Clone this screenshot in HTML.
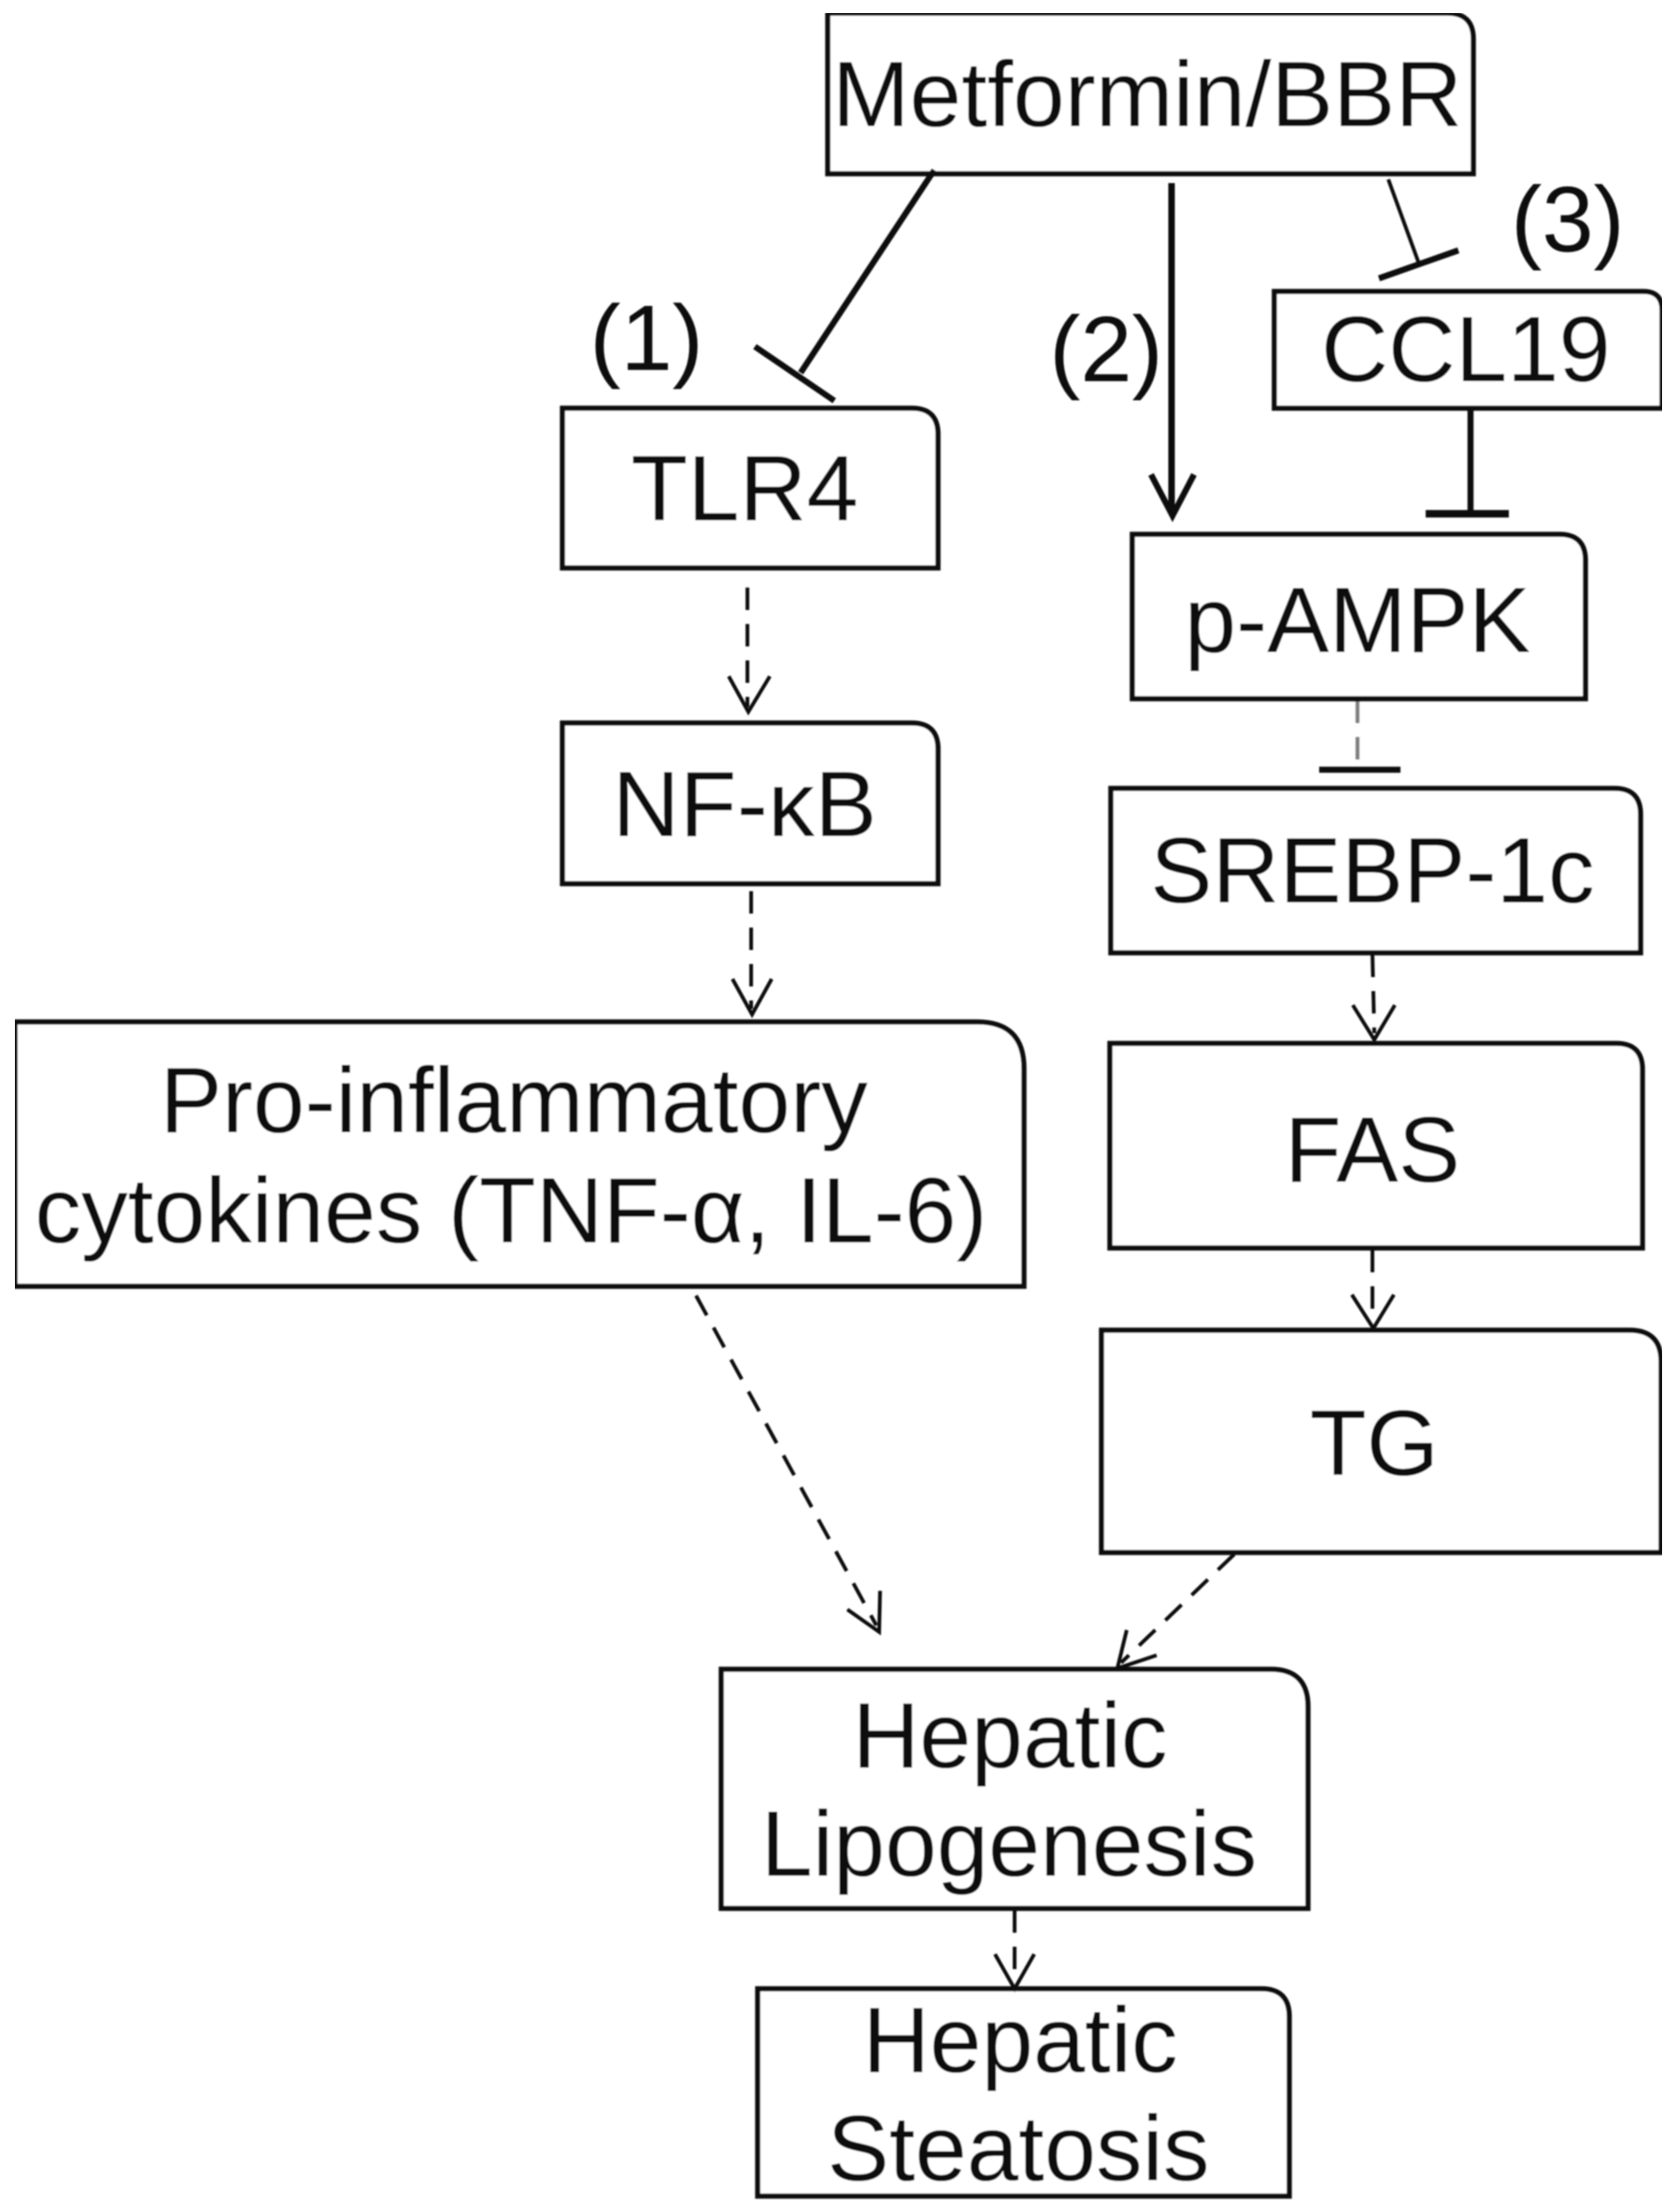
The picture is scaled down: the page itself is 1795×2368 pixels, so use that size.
<!DOCTYPE html>
<html>
<head>
<meta charset="utf-8">
<style>
html,body{margin:0;padding:0;background:#fff;}
svg{display:block;}
text{font-family:"Liberation Sans",sans-serif;font-size:99.5px;fill:#0a0a0a;text-anchor:middle;}
.b{fill:#fff;stroke:#111;stroke-width:5.5;}
.l{fill:none;stroke:#111;stroke-width:4;}
.t{fill:none;stroke:#111;stroke-width:6.5;}
.d{fill:none;stroke:#111;stroke-width:4;stroke-dasharray:24 15;}
.h{fill:none;stroke:#111;stroke-width:4;}
</style>
</head>
<body>
<svg width="1795" height="2368" viewBox="0 0 1795 2368" xmlns="http://www.w3.org/2000/svg">
<defs><filter id="s" x="0" y="0" width="100%" height="100%"><feGaussianBlur stdDeviation="0.8"/></filter></defs>
<rect width="1795" height="2368" fill="#fff"/>
<g filter="url(#s)">
<path class="b" d="M886 14H1549Q1577 14 1577 42V186H886Z"/>
<path class="b" d="M1364 312H1759Q1779 312 1779 332V437H1364Z"/>
<path class="b" d="M602 437H976Q1004 437 1004 465V608H602Z"/>
<path class="b" d="M1212 572H1669Q1697 572 1697 600V748H1212Z"/>
<path class="b" d="M602 774H976Q1004 774 1004 802V946H602Z"/>
<path class="b" d="M1189 844H1728Q1756 844 1756 872V1020H1189Z"/>
<path class="b" d="M1188 1117H1730Q1758 1117 1758 1145V1336H1188Z"/>
<path class="b" d="M1179 1424H1744Q1778 1424 1778 1458V1662H1179Z"/>
<path class="b" d="M16 1094H1046Q1096 1094 1096 1144V1377H16Z"/>
<path class="b" d="M772 1787H1360Q1400 1787 1400 1827V2043H772Z"/>
<path class="b" d="M811 2129H1350Q1380 2129 1380 2159V2351H811Z"/>

<line class="t" x1="1000" y1="182" x2="857" y2="399"/>
<line class="t" x1="808" y1="371" x2="893" y2="429"/>
<line x1="1254" y1="196" x2="1254" y2="548" stroke="#111" stroke-width="7" fill="none"/>
<path class="t" d="M1232 508L1255 552L1278 508"/>
<line class="l" x1="1486" y1="192" x2="1518" y2="280"/>
<line class="t" x1="1476" y1="298" x2="1561" y2="268"/>
<line class="t" x1="1574" y1="436" x2="1574" y2="547"/>
<line x1="1526" y1="550" x2="1615" y2="550" stroke="#111" stroke-width="8"/>

<line class="d" x1="800" y1="629" x2="800" y2="757"/>
<path class="h" d="M780 724L801 762L824 724"/>
<line class="d" x1="804" y1="954" x2="804" y2="1080"/>
<path class="h" d="M784 1048L805 1086L826 1048"/>
<line class="d" stroke-opacity="0.55" x1="1453" y1="750" x2="1453" y2="818"/>
<line class="t" x1="1412" y1="824" x2="1499" y2="824"/>
<line class="d" x1="1469" y1="1022" x2="1471" y2="1106"/>
<path class="h" d="M1448 1076L1471 1113L1493 1076"/>
<line class="d" x1="1469" y1="1338" x2="1469" y2="1416"/>
<path class="h" d="M1447 1386L1470 1422L1492 1386"/>
<line class="d" x1="745" y1="1387" x2="938" y2="1740"/>
<path class="h" d="M907 1723L941 1747L942 1703"/>
<line class="d" x1="1321" y1="1664" x2="1200" y2="1780"/>
<path class="h" d="M1206 1745L1196 1786L1238 1772"/>
<line class="d" x1="1086" y1="2045" x2="1086" y2="2122"/>
<path class="h" d="M1065 2092L1086 2129L1107 2092"/>

<text x="1228" y="135">Metformin/BBR</text>
<text x="1569" y="408">CCL19</text>
<text x="797" y="557">TLR4</text>
<text x="1453" y="698">p-AMPK</text>
<text x="797" y="895" textLength="283">NF-κB</text>
<text x="1469" y="966">SREBP-1c</text>
<text x="1469" y="1265">FAS</text>
<text x="1471" y="1579">TG</text>
<text x="550" y="1212">Pro-inflammatory</text>
<text x="547" y="1330">cytokines (TNF-α, IL-6)</text>
<text x="1081" y="1892">Hepatic</text>
<text x="1080" y="2008">Lipogenesis</text>
<text x="1092" y="2218">Hepatic</text>
<text x="1090" y="2334">Steatosis</text>
<text x="692" y="396">(1)</text>
<text x="1184" y="408">(2)</text>
<text x="1678" y="269">(3)</text>
</g>
</svg>
</body>
</html>
